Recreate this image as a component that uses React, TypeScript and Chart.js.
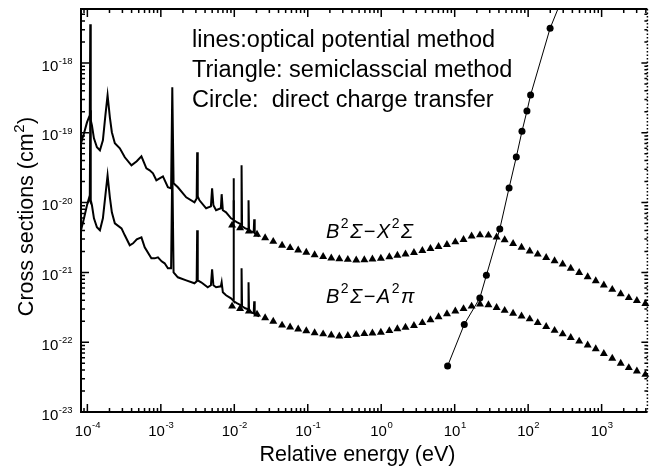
import React, { useEffect, useRef } from 'react';
import { Chart, registerables } from 'chart.js';

Chart.register(...registerables);

// ---- Data (energies in eV, cross sections in cm^2) ----
// Optical potential method, B2Σ–X2Σ (upper line)
const upperLineE = [8.19e-5, 9.0e-5, 9.88e-5, 1.051e-4, 1.078e-4, 1.095e-4, 1.112e-4, 1.154e-4, 1.229e-4, 1.349e-4,
  1.482e-4, 1.627e-4, 1.759e-4, 1.884e-4, 2.024e-4, 2.154e-4, 2.366e-4, 2.765e-4, 3.232e-4, 3.984e-4,
  4.70e-4, 5.442e-4, 6.361e-4, 7.05e-4, 7.816e-4, 8.69e-4, 9.632e-4, 1.068e-3, 1.248e-3, 1.379e-3,
  1.432e-3, 1.491e-3, 1.705e-3, 2.216e-3, 2.871e-3, 3.075e-3, 3.123e-3, 3.182e-3, 3.356e-3, 4.135e-3,
  4.805e-3, 4.988e-3, 5.194e-3, 5.649e-3, 6.563e-3, 6.729e-3, 6.986e-3, 7.72e-3, 9.023e-3, 9.603e-3,
  9.754e-3, 9.906e-3, 1.098e-2, 1.236e-2, 1.256e-2, 1.276e-2, 1.41e-2, 1.538e-2, 1.5625e-2, 1.587e-2,
  1.70e-2, 1.837e-2, 1.866e-2, 1.896e-2, 2.182e-2];
const upperLineSigma = [7.07e-20, 9.84e-20, 1.41e-19, 1.67e-19, 1.61e-19, 3.58e-18, 1.51e-19, 1.28e-19, 8.34e-20, 6.20e-20,
  5.62e-20, 7.81e-20, 1.78e-19, 3.45e-19, 1.67e-19, 1.02e-19, 7.07e-20, 6.00e-20, 4.46e-20, 3.42e-20,
  3.91e-20, 4.61e-20, 3.10e-20, 2.90e-20, 2.63e-20, 2.09e-20, 2.23e-20, 2.38e-20, 1.66e-20, 1.60e-20,
  4.49e-19, 1.89e-20, 1.66e-20, 1.19e-20, 1.01e-20, 1.15e-20, 5.26e-20, 1.23e-20, 1.08e-20, 8.29e-21,
  8.85e-21, 1.60e-20, 9.15e-21, 7.76e-21, 8.29e-21, 1.32e-20, 7.76e-21, 7.26e-21, 5.96e-21, 5.76e-21,
  2.23e-20, 5.58e-21, 5.22e-21, 4.89e-21, 3.42e-20, 4.58e-21, 4.28e-21, 4.15e-21, 1.08e-20, 4.01e-21,
  3.88e-21, 3.75e-21, 5.76e-21, 3.63e-21, 3.29e-21];

// Optical potential method, B2Σ–A2π (lower line)
const lowerLineE = [8.19e-5, 9.0e-5, 9.88e-5, 1.051e-4, 1.078e-4, 1.095e-4, 1.112e-4, 1.154e-4, 1.229e-4, 1.349e-4,
  1.482e-4, 1.627e-4, 1.759e-4, 1.884e-4, 2.024e-4, 2.154e-4, 2.366e-4, 2.916e-4, 3.232e-4, 3.778e-4,
  4.188e-4, 4.70e-4, 5.442e-4, 6.033e-4, 7.434e-4, 8.241e-4, 9.135e-4, 1.025e-3, 1.126e-3, 1.248e-3,
  1.379e-3, 1.432e-3, 1.491e-3, 1.705e-3, 2.216e-3, 2.871e-3, 3.075e-3, 3.123e-3, 3.182e-3, 3.539e-3,
  4.347e-3, 4.805e-3, 4.988e-3, 5.194e-3, 5.649e-3, 6.563e-3, 6.729e-3, 6.986e-3, 7.72e-3, 9.023e-3,
  9.603e-3, 9.754e-3, 9.906e-3, 1.098e-2, 1.236e-2, 1.256e-2, 1.276e-2, 1.41e-2, 1.538e-2, 1.5625e-2,
  1.587e-2, 1.70e-2, 1.837e-2, 1.866e-2, 1.896e-2, 2.182e-2];
const lowerLineSigma = [4.01e-21, 5.96e-21, 9.15e-21, 1.15e-20, 1.08e-20, 2.10e-19, 1.08e-20, 9.15e-21, 5.96e-21, 4.43e-21,
  4.01e-21, 5.96e-21, 1.27e-20, 2.46e-20, 1.19e-20, 7.26e-21, 5.05e-21, 4.28e-21, 3.40e-21, 2.45e-21,
  2.61e-21, 2.98e-21, 3.18e-21, 2.29e-21, 1.59e-21, 1.59e-21, 1.645e-21, 1.44e-21, 1.35e-21, 1.145e-21,
  1.145e-21, 3.42e-20, 1.00e-21, 8.51e-22, 7.70e-22, 6.98e-22, 7.45e-22, 4.01e-21, 7.70e-22, 7.21e-22,
  6.12e-22, 6.54e-22, 1.11e-21, 6.54e-22, 6.12e-22, 6.32e-22, 7.21e-22, 5.19e-22, 4.70e-22, 4.26e-22,
  3.98e-22, 1.08e-20, 3.86e-22, 3.61e-22, 3.38e-22, 1.145e-21, 3.27e-22, 3.06e-22, 2.96e-22, 7.21e-22,
  2.86e-22, 2.68e-22, 2.59e-22, 3.86e-22, 2.51e-22, 2.35e-22];

// Semiclassical method (triangles)
const triangleE = [0.00933, 0.0120, 0.0158, 0.0204, 0.0263, 0.0339, 0.0447, 0.0575, 0.0741, 0.0955,
  0.124, 0.162, 0.209, 0.269, 0.351, 0.457, 0.589, 0.759, 0.989, 1.29,
  1.66, 2.14, 2.79, 3.63, 4.68, 6.03, 7.85, 10.2, 13.2, 17.0,
  22.1, 28.8, 37.2, 47.9, 62.4, 81.3, 105, 135, 176, 229,
  295, 380, 495, 646, 832, 1072, 1396, 1820, 2344, 3020, 3936];
const triangleUpper = [4.73e-21, 4.32e-21, 3.89e-21, 3.50e-21, 3.12e-21, 2.77e-21, 2.44e-21, 2.25e-21, 2.08e-21, 1.93e-21,
  1.78e-21, 1.68e-21, 1.60e-21, 1.56e-21, 1.53e-21, 1.50e-21, 1.51e-21, 1.55e-21, 1.59e-21, 1.67e-21,
  1.75e-21, 1.83e-21, 1.92e-21, 2.05e-21, 2.19e-21, 2.34e-21, 2.50e-21, 2.72e-21, 2.94e-21, 3.31e-21,
  3.43e-21, 3.40e-21, 3.20e-21, 2.92e-21, 2.58e-21, 2.28e-21, 2.02e-21, 1.82e-21, 1.63e-21, 1.46e-21,
  1.31e-21, 1.14e-21, 9.93e-22, 8.63e-22, 7.55e-22, 6.58e-22, 5.69e-22, 4.93e-22, 4.33e-22, 3.94e-22, 3.57e-22];
const triangleLower = [3.27e-22, 3.02e-22, 2.77e-22, 2.51e-22, 2.23e-22, 1.99e-22, 1.75e-22, 1.64e-22, 1.54e-22, 1.45e-22,
  1.36e-22, 1.31e-22, 1.26e-22, 1.22e-22, 1.24e-22, 1.29e-22, 1.32e-22, 1.35e-22, 1.38e-22, 1.46e-22,
  1.55e-22, 1.63e-22, 1.73e-22, 1.90e-22, 2.09e-22, 2.30e-22, 2.55e-22, 2.78e-22, 3.01e-22, 3.27e-22,
  3.51e-22, 3.43e-22, 3.13e-22, 2.84e-22, 2.59e-22, 2.36e-22, 2.15e-22, 1.90e-22, 1.67e-22, 1.47e-22,
  1.31e-22, 1.16e-22, 1.03e-22, 9.08e-23, 8.02e-23, 6.87e-23, 5.85e-23, 4.98e-23, 4.30e-23, 3.85e-23, 3.44e-23];

// Direct charge transfer (circles) — last entry is the line's continuation beyond the top
const circleE = [8.01, 13.5, 22.0, 27.0, 41.1, 55.0, 69.0, 82.4, 96.3, 108, 199, 282];
const circleSigma = [4.56e-23, 1.80e-22, 4.30e-22, 9.08e-22, 4.19e-21, 1.62e-20, 4.50e-20, 1.05e-19, 2.05e-19, 3.48e-19, 3.14e-18, 7.8e-18];
const circleMarked = [true, true, true, true, true, true, true, true, true, true, true, false];

// Axes
const xRange = [8.19e-5, 4200];
const yRange = [1e-23, 5.94e-18];
const xTickExponents = [-4, -3, -2, -1, 0, 1, 2, 3];
const yTickExponents = [-23, -22, -21, -20, -19, -18];

const infoLines = ['lines:optical potential method', 'Triangle: semiclasscial method', 'Circle:  direct charge transfer'];
const xTitle = 'Relative energy (eV)';
const yTitleMain = 'Cross sections (cm';
const labelUpper = [['B', 0], ['2', 1], ['Σ', 0], ['−', 0], ['X', 0], ['2', 1], ['Σ', 0]];
const labelLower = [['B', 0], ['2', 1], ['Σ', 0], ['−', 0], ['A', 0], ['2', 1], ['π', 0]];

const FONT = '"Liberation Sans", Arial, Helvetica, sans-serif';

const zip = (xs: number[], ys: number[]) => xs.map((x, i) => ({ x, y: ys[i] }));

const decorPlugin = {
  id: 'decor',
  afterDraw(chart: any) {
    const { ctx, chartArea: a, scales } = chart;
    const xs = scales.x;
    const ys = scales.y;
    ctx.save();
    ctx.strokeStyle = '#000';
    ctx.fillStyle = '#000';

    // frame
    ctx.lineWidth = 2;
    ctx.beginPath();
    ctx.moveTo(a.right, a.top);
    ctx.lineTo(a.left, a.top);
    ctx.lineTo(a.left, a.bottom);
    ctx.lineTo(a.right, a.bottom);
    ctx.stroke();
    ctx.lineWidth = 1.5;
    ctx.setLineDash([1.5, 2]);
    ctx.beginPath();
    ctx.moveTo(a.right, a.top);
    ctx.lineTo(a.right, a.bottom);
    ctx.stroke();
    ctx.setLineDash([]);

    // ticks
    ctx.lineWidth = 1.5;
    ctx.beginPath();
    for (let n = -6; n <= 5; n++) {
      for (let k = 1; k <= 9; k++) {
        const v = k * Math.pow(10, n);
        if (v >= xs.min && v <= xs.max) {
          const px = xs.getPixelForValue(v);
          const len = k === 1 ? 8 : 4;
          ctx.moveTo(px, a.bottom);
          ctx.lineTo(px, a.bottom - len);
          ctx.moveTo(px, a.top);
          ctx.lineTo(px, a.top + len);
        }
      }
    }
    for (let n = -24; n <= -16; n++) {
      for (let k = 1; k <= 9; k++) {
        const v = k * Math.pow(10, n);
        if (v >= ys.min && v <= ys.max) {
          const py = ys.getPixelForValue(v);
          const len = k === 1 ? 8 : 4;
          ctx.moveTo(a.left, py);
          ctx.lineTo(a.left + len, py);
          ctx.moveTo(a.right, py);
          ctx.lineTo(a.right - (k === 1 ? 6 : 3), py);
        }
      }
    }
    ctx.stroke();

    // tick labels
    ctx.textBaseline = 'alphabetic';
    ctx.textAlign = 'left';
    const big = `15px ${FONT}`;
    const small = `9.5px ${FONT}`;
    xTickExponents.forEach((e) => {
      const px = xs.getPixelForValue(Math.pow(10, e));
      const es = String(e);
      ctx.font = big;
      const w1 = ctx.measureText('10').width;
      ctx.font = small;
      const w2 = ctx.measureText(es).width;
      const start = px - (w1 + w2) / 2;
      ctx.font = big;
      ctx.fillText('10', start, a.bottom + 24);
      ctx.font = small;
      ctx.fillText(es, start + w1 + 0.5, a.bottom + 16);
    });
    yTickExponents.forEach((e) => {
      const py = ys.getPixelForValue(Math.pow(10, e));
      const es = String(e);
      ctx.font = big;
      const w1 = ctx.measureText('10').width;
      ctx.font = small;
      const w2 = ctx.measureText(es).width;
      const start = a.left - 9 - w1 - w2;
      ctx.font = big;
      ctx.fillText('10', start, py + 7.5);
      ctx.font = small;
      ctx.fillText(es, start + w1 + 0.5, py + 1);
    });

    // axis titles
    ctx.font = `21.5px ${FONT}`;
    ctx.textAlign = 'center';
    ctx.fillText(xTitle, 357.5, 461);

    ctx.save();
    ctx.translate(33, 216.5);
    ctx.rotate(-Math.PI / 2);
    ctx.textAlign = 'left';
    ctx.font = `21.5px ${FONT}`;
    const wm = ctx.measureText(yTitleMain).width;
    const wp = ctx.measureText(')').width;
    ctx.font = `15px ${FONT}`;
    const ws = ctx.measureText('2').width;
    let sx = -(wm + ws + wp + 1) / 2;
    ctx.font = `21.5px ${FONT}`;
    ctx.fillText(yTitleMain, sx, 0);
    sx += wm + 0.5;
    ctx.font = `15px ${FONT}`;
    ctx.fillText('2', sx, -9);
    sx += ws + 0.5;
    ctx.font = `21.5px ${FONT}`;
    ctx.fillText(')', sx, 0);
    ctx.restore();

    // info text
    ctx.textAlign = 'left';
    ctx.font = `23.5px ${FONT}`;
    infoLines.forEach((t, i) => ctx.fillText(t, 192, 47 + i * 30));

    // curve labels
    const drawLabel = (segs: any[], x0: number, base: number) => {
      let x = x0;
      segs.forEach(([t, sup]) => {
        ctx.font = sup ? `14px ${FONT}` : `italic 20px ${FONT}`;
        ctx.fillText(t, x, sup ? base - 10 : base);
        x += ctx.measureText(t).width + 1.5;
      });
    };
    drawLabel(labelUpper, 326, 238);
    drawLabel(labelLower, 326, 303);

    ctx.restore();
  },
};

export default function App() {
  const ref = useRef<HTMLCanvasElement | null>(null);
  useEffect(() => {
    if (!ref.current) return;
    const chart = new Chart(ref.current, {
      type: 'scatter',
      data: {
        datasets: [
          {
            label: 'B2Σ–X2Σ optical potential',
            data: zip(upperLineE, upperLineSigma),
            showLine: true,
            borderColor: '#000',
            backgroundColor: '#000',
            borderWidth: 2,
            pointRadius: 0,
            tension: 0,
          },
          {
            label: 'B2Σ–A2π optical potential',
            data: zip(lowerLineE, lowerLineSigma),
            showLine: true,
            borderColor: '#000',
            backgroundColor: '#000',
            borderWidth: 2,
            pointRadius: 0,
            tension: 0,
          },
          {
            label: 'B2Σ–X2Σ semiclassical',
            data: zip(triangleE, triangleUpper),
            showLine: false,
            pointStyle: 'triangle',
            pointRadius: 4.6,
            backgroundColor: '#000',
            borderColor: '#000',
            borderWidth: 0,
            clip: 10,
          },
          {
            label: 'B2Σ–A2π semiclassical',
            data: zip(triangleE, triangleLower),
            showLine: false,
            pointStyle: 'triangle',
            pointRadius: 4.6,
            backgroundColor: '#000',
            borderColor: '#000',
            borderWidth: 0,
            clip: 10,
          },
          {
            label: 'Direct charge transfer',
            data: zip(circleE, circleSigma),
            showLine: true,
            borderColor: '#000',
            backgroundColor: '#000',
            borderWidth: 1,
            pointRadius: circleMarked.map((m) => (m ? 3.5 : 0)),
            pointBorderWidth: 0,
            tension: 0,
          },
        ],
      },
      options: {
        responsive: false,
        animation: false,
        devicePixelRatio: 1,
        events: [],
        layout: { padding: { left: 81, top: 9, right: 2, bottom: 58 } },
        plugins: { legend: { display: false }, tooltip: { enabled: false } },
        scales: {
          x: { type: 'logarithmic', min: xRange[0], max: xRange[1], display: false },
          y: { type: 'logarithmic', min: yRange[0], max: yRange[1], display: false },
        },
      },
      plugins: [decorPlugin],
    } as any);
    return () => chart.destroy();
  }, []);

  return (
    <div style={{ position: 'absolute', left: 0, top: 0, width: 652, height: 470, background: '#fff' }}>
      <canvas ref={ref} width={652} height={470} style={{ display: 'block' }} />
    </div>
  );
}
